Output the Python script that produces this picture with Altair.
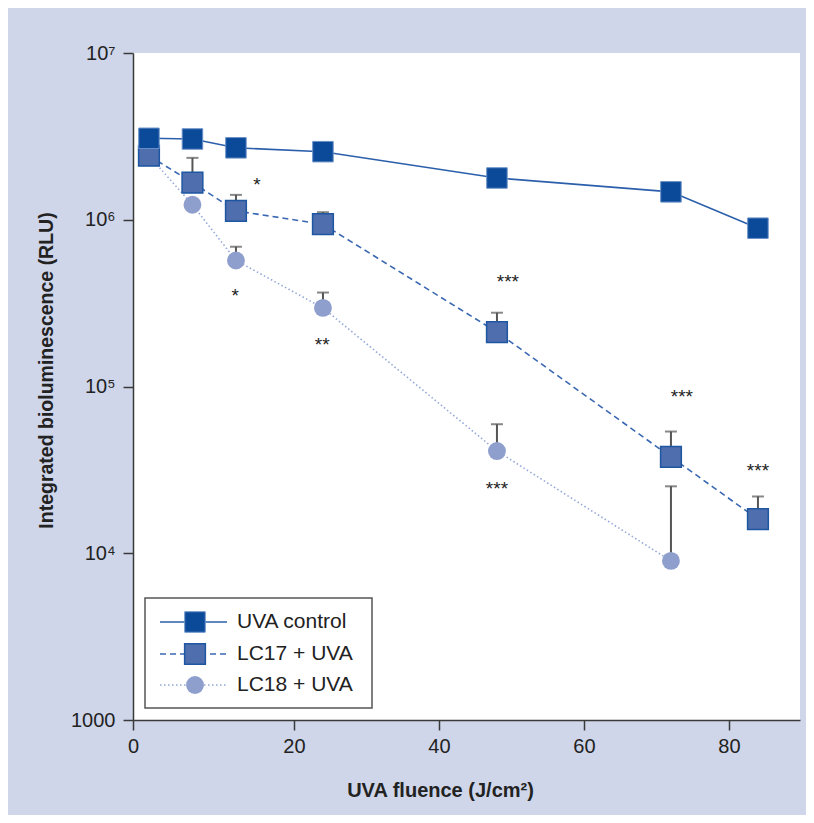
import altair as alt
import pandas as pd

# ---- data ----
fluence = [0, 6, 12, 24, 48, 72, 84]
uva_control = [3.08e6, 3.05e6, 2.70e6, 2.56e6, 1.78e6, 1.47e6, 8.9e5]
lc17 = [2.42e6, 1.67e6, 1.13e6, 9.4e5, 2.12e5, 3.78e4, 1.60e4]
lc17_err_top = [None, 2.35e6, 1.41e6, 1.11e6, 2.77e5, 5.37e4, 2.19e4]
fluence_lc18 = [0, 6, 12, 24, 48, 72]
lc18 = [2.42e6, 1.23e6, 5.70e5, 2.96e5, 4.10e4, 9.0e3]
lc18_err_top = [None, None, 6.89e5, 3.66e5, 5.94e4, 2.52e4]

sig_x = [14.9, 11.9, 23.9, 49.5, 48.0, 73.5, 84.0]
sig_y = [1.71e6, 3.71e5, 1.88e5, 4.50e5, 2.55e4, 9.08e4, 3.27e4]
sig_text = ["*", "*", "**", "***", "***", "***", "***"]

series_names = ["UVA control", "LC17 + UVA", "LC18 + UVA"]
x_tick_values = [-2.2, 20, 40, 60, 80]
x_tick_labels = ["0", "20", "40", "60", "80"]
y_tick_values = [1000, 10000, 100000, 1000000, 10000000]
y_tick_labels = ["1000", "10\u2074", "10\u2075", "10\u2076", "10\u2077"]

FONT = "Liberation Sans"

def frame(xs, ys):
    return pd.DataFrame({"x": xs, "y": ys})

df_uva = frame(fluence, uva_control)
df_17 = frame(fluence, lc17)
df_18 = frame(fluence_lc18, lc18)

err_rows = []
for xs, ys, tops in [(fluence, lc17, lc17_err_top), (fluence_lc18, lc18, lc18_err_top)]:
    for x, y, t in zip(xs, ys, tops):
        if t is not None:
            err_rows.append({"x": x, "y": y, "ytop": t})
df_err = pd.DataFrame(err_rows)
df_caps = pd.DataFrame({"x": df_err["x"], "y": df_err["ytop"]})
df_sig = pd.DataFrame({"x": sig_x, "y": sig_y, "t": sig_text})

def expr(values, labels):
    e = "''"
    for v, l in zip(reversed(values), reversed(labels)):
        e = f"(abs(datum.value - {v}) < 1e-6 * {abs(v) + 1}) ? '{l}' : {e}"
    return e

X = alt.X("x:Q",
          scale=alt.Scale(domain=[-2.2, 89.8], nice=False, zero=False),
          axis=alt.Axis(values=x_tick_values, labelExpr=expr(x_tick_values, x_tick_labels),
                        title="UVA fluence (J/cm\u00b2)", grid=False,
                        domainColor="#3a3a3a", domainWidth=1.5, tickColor="#3a3a3a",
                        tickWidth=1.5, tickSize=10, labelPadding=6, labelFontSize=20,
                        labelColor="#222", labelFont=FONT, titleFont=FONT,
                        titleFontSize=20, titleFontWeight="bold", titleColor="#222",
                        titleX=307, titleY=76, titleBaseline="alphabetic",
                        labelFlush=False))
Y = alt.Y("y:Q",
          scale=alt.Scale(type="log", domain=[1000, 1e7], nice=False),
          axis=alt.Axis(values=y_tick_values, labelExpr=expr(y_tick_values, y_tick_labels),
                        title="Integrated bioluminescence (RLU)", grid=False,
                        domainColor="#3a3a3a", domainWidth=1.5, tickColor="#3a3a3a",
                        tickWidth=1.5, tickSize=10, labelPadding=8, labelFontSize=20,
                        labelColor="#222", labelFont=FONT, titleFont=FONT,
                        titleFontSize=19.5, titleFontWeight="bold", titleColor="#222",
                        titleX=-87, titleY=317, titleBaseline="middle",
                        labelFlush=False))

layers = []
# lines
layers.append(alt.Chart(df_18).mark_line(color="#93a7d8", strokeWidth=1.6, strokeDash=[1.5, 2.5]).encode(x=X, y=Y))
layers.append(alt.Chart(df_17).mark_line(color="#3b68b2", strokeWidth=1.6, strokeDash=[6, 4]).encode(x=X, y=Y))
layers.append(alt.Chart(df_uva).mark_line(color="#2b5fab", strokeWidth=1.6).encode(x=X, y=Y))
# error bars
layers.append(alt.Chart(df_err).mark_rule(color="#555", strokeWidth=2).encode(x=X, y=Y, y2=alt.Y2("ytop:Q")))
layers.append(alt.Chart(df_caps).mark_tick(color="#555", size=12, thickness=2, orient="horizontal").encode(x=X, y=Y))
# markers
layers.append(alt.Chart(df_18).mark_point(shape="circle", filled=True, size=320, fill="#8f9fcd", opacity=1).encode(x=X, y=Y))
layers.append(alt.Chart(df_17).mark_point(shape="square", filled=True, size=430, fill="#4f6eae", stroke="#1e56a2", strokeWidth=1.5, opacity=1).encode(x=X, y=Y))
layers.append(alt.Chart(df_uva).mark_point(shape="square", filled=True, size=420, fill="#0a4a99", stroke="#6a90c8", strokeWidth=1, opacity=1).encode(x=X, y=Y))
# significance stars
layers.append(alt.Chart(df_sig).mark_text(font=FONT, fontSize=19, color="#222", baseline="alphabetic", dy=10).encode(x=X, y=Y, text="t:N"))

# legend box
one = pd.DataFrame({"k": [0]})
layers.append(alt.Chart(one).mark_rect(fill="white", stroke="#555", strokeWidth=1.5).encode(
    x=alt.value(12), x2=alt.value(239), y=alt.value(545), y2=alt.value(655)))
leg_styles = [
    dict(line=dict(color="#2b5fab", strokeWidth=1.6), pt=dict(shape="square", size=420, fill="#0a4a99", stroke="#6a90c8", strokeWidth=1)),
    dict(line=dict(color="#3b68b2", strokeWidth=1.6, strokeDash=[6, 4]), pt=dict(shape="square", size=430, fill="#4f6eae", stroke="#1e56a2", strokeWidth=1.5)),
    dict(line=dict(color="#93a7d8", strokeWidth=1.6, strokeDash=[1.5, 2.5]), pt=dict(shape="circle", size=320, fill="#8f9fcd")),
]
row_y = [569, 601, 632]
for name, st, ry in zip(series_names, leg_styles, row_y):
    layers.append(alt.Chart(one).mark_rule(**st["line"]).encode(x=alt.value(27), x2=alt.value(94), y=alt.value(ry)))
    layers.append(alt.Chart(one).mark_point(filled=True, opacity=1, **st["pt"]).encode(x=alt.value(62), y=alt.value(ry)))
    layers.append(alt.Chart(one).mark_text(font=FONT, fontSize=21, color="#222", align="left", baseline="middle").encode(
        x=alt.value(104), y=alt.value(ry), text=alt.value(name)))

chart = alt.layer(*layers).properties(
    width=667, height=667,
    padding={"left": 125, "top": 45, "right": 6, "bottom": 95},
    autosize=alt.AutoSizeParams(type="none"),
    background="#cfd6e9",
).configure_view(fill="white", strokeWidth=0)

chart.save("out.html", embed_options={"renderer": "svg", "actions": False})
